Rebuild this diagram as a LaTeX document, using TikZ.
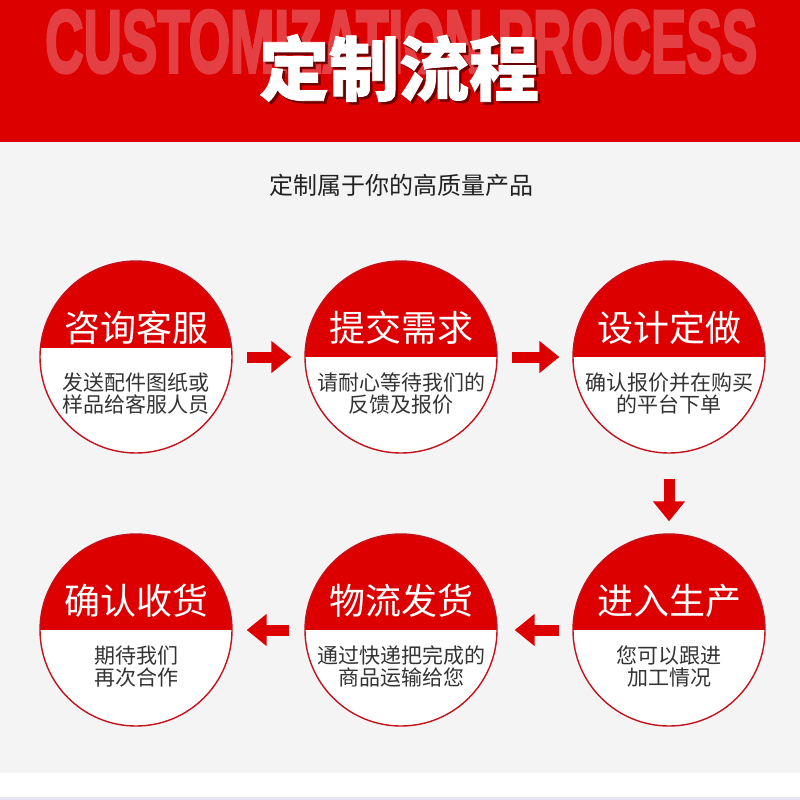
\documentclass[tikz,border=0pt]{standalone}
\usepackage{graphicx}
\usepackage{fontspec}
\setmainfont{Liberation Sans}
\newfontfamily\cjk{Noto Sans CJK SC}
\newfontfamily\cjkheavy{Noto Sans CJK SC}[BoldFeatures={FakeBold=1.2}]
\newfontfamily\ghostfont{Liberation Sans}[BoldFeatures={FakeBold=3.5}]
\usetikzlibrary{arrows.meta}
\definecolor{brand}{RGB}{220,0,0}
\definecolor{ghostred}{RGB}{228,64,68}
\definecolor{bg}{RGB}{244,244,244}
\definecolor{edge}{RGB}{196,18,28}
\definecolor{txt}{RGB}{51,51,51}
\definecolor{lav}{RGB}{228,228,240}
\definecolor{shadowred}{RGB}{110,0,0}
\begin{document}
\begin{tikzpicture}[x=1pt,y=-1pt,
  stepcircle/.style={circle, draw=edge, line width=1.4pt, minimum size=192pt, inner sep=0pt, fill=white,
    path picture={\fill[brand] ([yshift=20pt]path picture bounding box.north west) rectangle ([yshift=#1]path picture bounding box.east);}},
  stepcircle/.default=0pt,
  ctitle/.style={text=white, font=\cjk\fontsize{36}{36}\selectfont, inner sep=0pt},
  csub/.style={text=txt, font=\cjk\fontsize{21}{21.5}\selectfont, align=center, inner sep=0pt},
  flow/.style={draw=brand, line width=11pt, -{Triangle[width=31pt,length=20pt]}}
]
\useasboundingbox (0,0) rectangle (800,800);
% backgrounds
\fill[brand] (0,0) rectangle (800,142);
\fill[bg] (0,142) rectangle (800,773);
\fill[white] (0,773) rectangle (800,797);
\fill[lav] (0,797) rectangle (800,800);
% header texts
\node[text=ghostred, inner sep=0pt, anchor=north west] (ghost) at (45,10)
  {\resizebox{712pt}{62pt}{\ghostfont\bfseries CUSTOMIZATION PROCESS}};
\node[text=shadowred, inner sep=0pt, font=\cjkheavy\bfseries\fontsize{70}{70}\selectfont] (shadow) at (401.5,70.5) {定制流程};
\node[text=white, inner sep=0pt, font=\cjkheavy\bfseries\fontsize{70}{70}\selectfont] (title) at (399,68) {定制流程};
\node[text=black!87, inner sep=0pt, font=\cjk\fontsize{24}{24}\selectfont] (subtitle) at (401,185) {定制属于你的高质量产品};
% circles
\node[stepcircle=9pt] (c1) at (136,357) {};
\node[stepcircle] (c2) at (401,357) {};
\node[stepcircle] (c3) at (669,357) {};
\node[stepcircle] (c4) at (136,630) {};
\node[stepcircle] (c5) at (401,630) {};
\node[stepcircle] (c6) at (669,630) {};
% circle texts
\node[ctitle] (t1) at ([yshift=29pt]c1.center) {咨询客服};
\node[csub] (s1) at ([yshift=-36.5pt]c1.center) {发送配件图纸或\\样品给客服人员};
\node[ctitle] (t2) at ([yshift=29pt]c2.center) {提交需求};
\node[csub] (s2) at ([yshift=-36.5pt]c2.center) {请耐心等待我们的\\反馈及报价};
\node[ctitle] (t3) at ([yshift=29pt]c3.center) {设计定做};
\node[csub] (s3) at ([yshift=-36.5pt]c3.center) {确认报价并在购买\\的平台下单};
\node[ctitle] (t4) at ([yshift=29pt]c4.center) {确认收货};
\node[csub] (s4) at ([yshift=-36.5pt]c4.center) {期待我们\\再次合作};
\node[ctitle] (t5) at ([yshift=29pt]c5.center) {物流发货};
\node[csub] (s5) at ([yshift=-36.5pt]c5.center) {通过快递把完成的\\商品运输给您};
\node[ctitle] (t6) at ([yshift=29pt]c6.center) {进入生产};
\node[csub] (s6) at ([yshift=-36.5pt]c6.center) {您可以跟进\\加工情况};
% arrows
\draw[flow, shorten <=14pt, shorten >=13pt] (c1.east) -- (c2.west);
\draw[flow, shorten <=14pt, shorten >=13pt] (c2.east) -- (c3.west);
\draw[flow, shorten <=25pt, shorten >=12pt] (c3.south) -- (c6.north);
\draw[flow, shorten <=13pt, shorten >=17pt] (c6.west) -- (c5.east);
\draw[flow, shorten <=15pt, shorten >=14pt] (c5.west) -- (c4.east);
\end{tikzpicture}
\end{document}
